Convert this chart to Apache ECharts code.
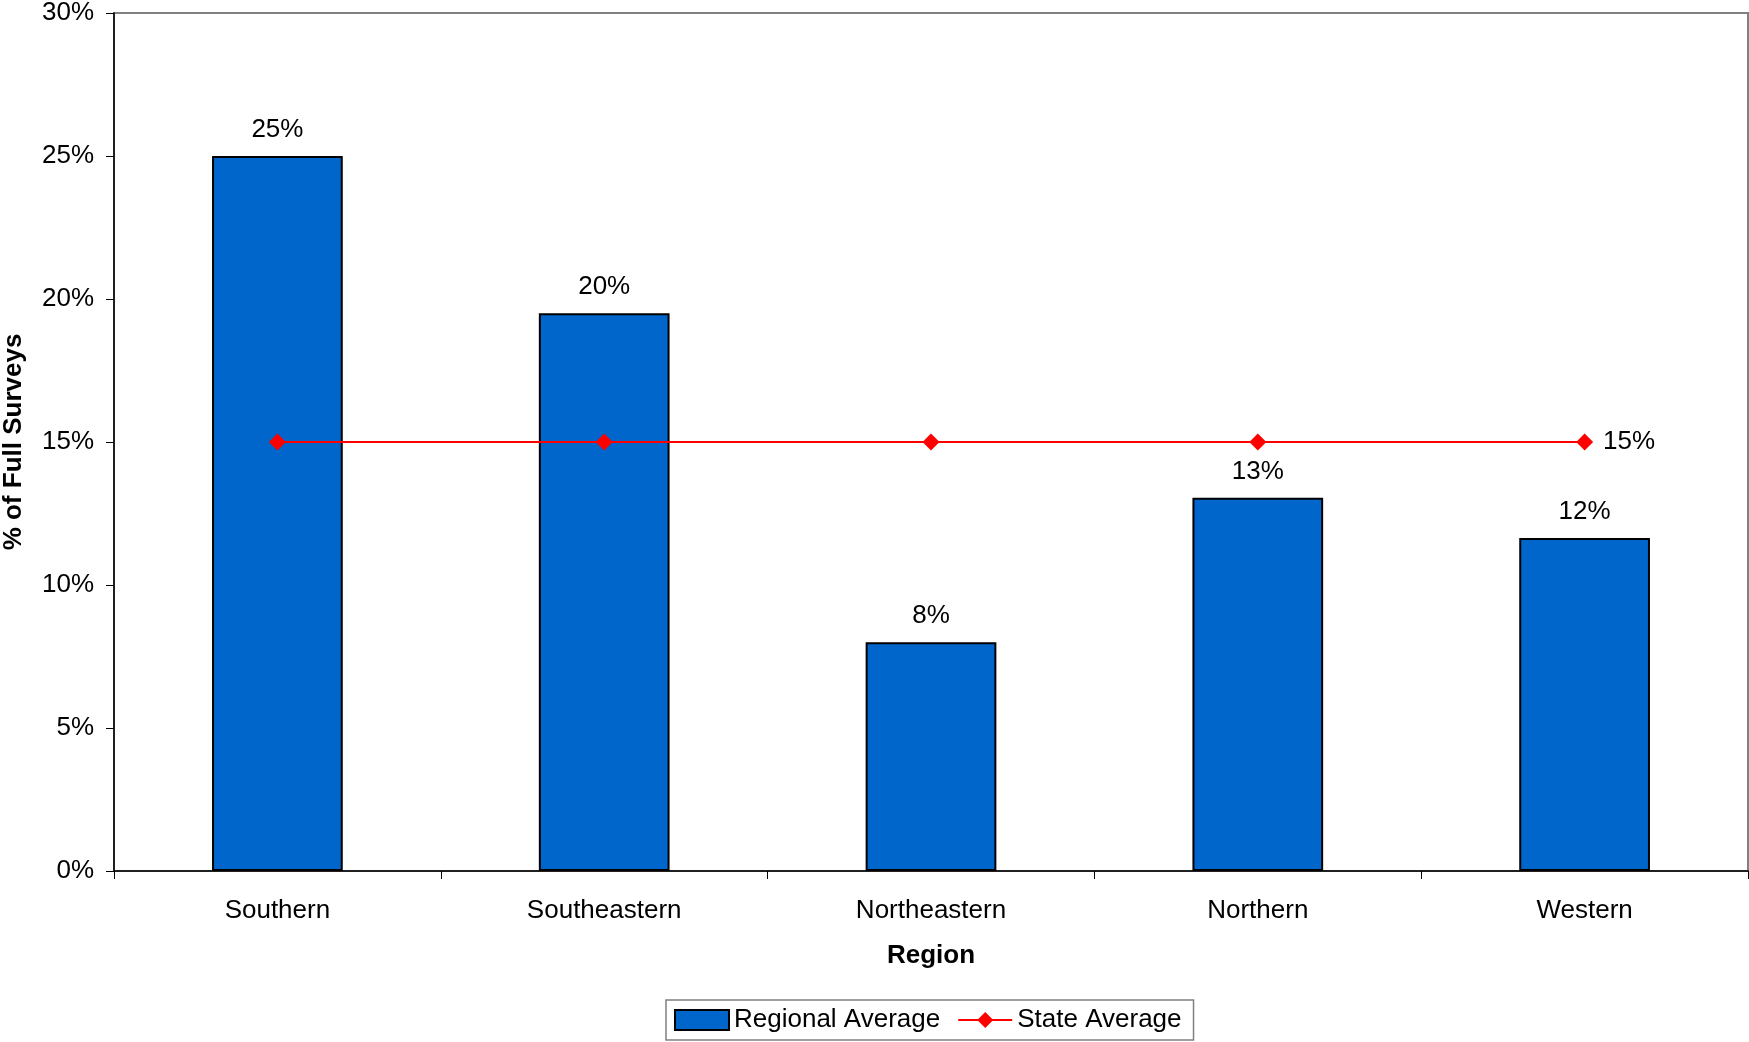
<!DOCTYPE html>
<html>
<head>
<meta charset="utf-8">
<script src="https://cdn.jsdelivr.net/npm/echarts@6/dist/echarts.min.js"></script>
<style>
html,body{margin:0;padding:0;background:#fff;}
#chart{width:1749px;height:1042px;}
</style>
</head>
<body>
<div id="chart"></div>
<script>
const categories = ['Southern', 'Southeastern', 'Northeastern', 'Northern', 'Western'];
const regionalAverage = [25.0, 19.5, 8.0, 13.05, 11.64];
const stateAverage = [15, 15, 15, 15, 15];
const yTicks = { min: 0, max: 30, interval: 5 };

const FONT = '"Liberation Sans", Arial, sans-serif';
const FS = 26;
const chart = echarts.init(document.getElementById('chart'), null, { renderer: 'canvas' });

const stateData = stateAverage.map((v, i) => i === stateAverage.length - 1
  ? { value: v, label: { show: true } }
  : { value: v });

chart.setOption({
  animation: false,
  backgroundColor: '#ffffff',
  textStyle: { fontFamily: FONT },
  grid: {
    left: 114, right: 1, top: 13, bottom: 171,
    outerBoundsMode: 'none',
    containLabel: false,
    show: true, borderColor: '#808080', borderWidth: 2, backgroundColor: 'transparent'
  },
  legend: {
    left: 666, top: 1000,
    orient: 'horizontal',
    borderColor: '#808080', borderWidth: 1.5,
    padding: [7, 12, 7, 8],
    itemWidth: 54, itemHeight: 20, itemGap: 17,
    textStyle: { fontFamily: FONT, fontSize: FS, color: '#000' },
    data: [{ name: 'Regional Average', icon: 'rect' }, { name: 'State Average' }]
  },
  xAxis: {
    type: 'category',
    data: categories,
    boundaryGap: true,
    name: 'Region',
    nameLocation: 'middle',
    nameGap: 72,
    nameTextStyle: { fontFamily: FONT, fontSize: FS, fontWeight: 'bold', color: '#000' },
    axisLine: { lineStyle: { color: '#000', width: 1.5 } },
    axisTick: { show: true, interval: 0, length: 8, lineStyle: { color: '#000', width: 1 } },
    axisLabel: { fontFamily: FONT, fontSize: FS, color: '#000', margin: 27, interval: 0 },
    splitLine: { show: false }
  },
  yAxis: {
    type: 'value',
    min: yTicks.min, max: yTicks.max, interval: yTicks.interval,
    name: '% of Full Surveys',
    nameLocation: 'middle',
    nameGap: 87,
    nameRotate: 90,
    nameTextStyle: { fontFamily: FONT, fontSize: FS, fontWeight: 'bold', color: '#000' },
    axisLine: { show: true, lineStyle: { color: '#000', width: 1.5 } },
    axisTick: { show: true, length: 8, lineStyle: { color: '#000', width: 1 } },
    axisLabel: { fontFamily: FONT, fontSize: FS, color: '#000', margin: 20, formatter: '{value}%' },
    splitLine: { show: false }
  },
  series: [
    {
      name: 'Regional Average',
      type: 'bar',
      data: regionalAverage,
      barWidth: '40%',
      itemStyle: { color: '#0066CC', borderColor: '#000', borderWidth: 2 },
      label: {
        show: true, position: 'top', distance: 13,
        fontFamily: FONT, fontSize: FS, color: '#000',
        formatter: p => Math.round(p.value) + '%'
      },
      z: 2
    },
    {
      name: 'State Average',
      type: 'line',
      data: stateData,
      symbol: 'diamond',
      symbolSize: 17,
      lineStyle: { color: '#FF0000', width: 2 },
      itemStyle: { color: '#FF0000' },
      label: {
        show: false, position: 'right', distance: 10,
        fontFamily: FONT, fontSize: FS, color: '#000',
        formatter: p => Math.round(p.value) + '%'
      },
      z: 3
    }
  ]
});
</script>
</body>
</html>
